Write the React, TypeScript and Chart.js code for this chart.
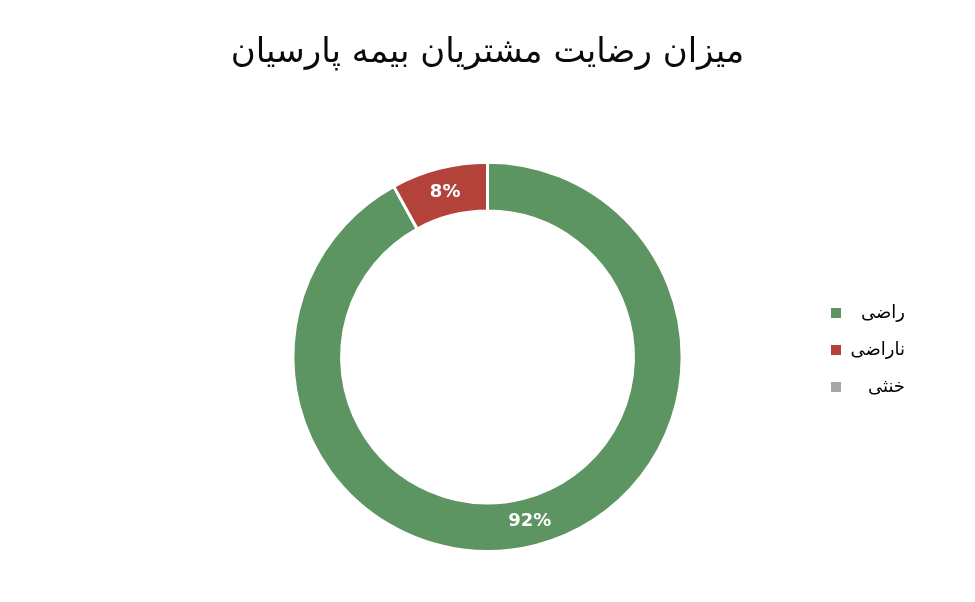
import { useEffect, useRef } from 'react';
import { Chart, registerables } from 'chart.js';

Chart.register(...registerables);

const TITLE = 'میزان رضایت مشتریان بیمه پارسیان';
const LABELS = ['راضی', 'ناراضی', 'خنثی'];
const VALUES = [92, 8, 0];
const COLORS = ['#5c9462', '#b3433a', '#a5a5a5'];

const FONT = "'DejaVu Sans', sans-serif";

// percent labels inside the ring
const sliceLabels = {
  id: 'sliceLabels',
  afterDatasetsDraw(chart: Chart) {
    const { ctx } = chart;
    const meta = chart.getDatasetMeta(0);
    ctx.save();
    ctx.fillStyle = '#ffffff';
    ctx.font = `bold 18px ${FONT}`;
    ctx.textAlign = 'center';
    ctx.textBaseline = 'middle';
    meta.data.forEach((arc: any, i: number) => {
      if (!VALUES[i]) return;
      const { startAngle, endAngle, innerRadius, outerRadius, x, y } = arc.getProps(
        ['startAngle', 'endAngle', 'innerRadius', 'outerRadius', 'x', 'y'],
        true
      );
      const a = (startAngle + endAngle) / 2;
      const r = (innerRadius + outerRadius) / 2;
      ctx.fillText(`${VALUES[i]}%`, x + Math.cos(a) * r, y + Math.sin(a) * r);
    });
    ctx.restore();
  },
};

// legend on the right: box left, text right-aligned
const sideLegend = {
  id: 'sideLegend',
  afterDraw(chart: Chart) {
    const { ctx } = chart;
    const boxX = 823;
    const textRight = 897;
    const top = 305;
    const step = 37;
    ctx.save();
    ctx.font = `18px ${FONT}`;
    ctx.textBaseline = 'middle';
    ctx.textAlign = 'right';
    LABELS.forEach((label, i) => {
      const y = top + i * step;
      ctx.fillStyle = COLORS[i];
      ctx.fillRect(boxX, y - 5, 10, 10);
      ctx.fillStyle = '#000000';
      ctx.fillText(label, textRight, y);
    });
    ctx.restore();
  },
};

export default function App() {
  const canvasRef = useRef<HTMLCanvasElement>(null);

  useEffect(() => {
    if (!canvasRef.current) return;
    const chart = new Chart(canvasRef.current, {
      type: 'doughnut',
      data: {
        labels: LABELS,
        datasets: [
          {
            data: VALUES,
            backgroundColor: COLORS,
            borderColor: '#ffffff',
            borderWidth: 3,
          },
        ],
      },
      options: {
        responsive: true,
        maintainAspectRatio: false,
        animation: false,
        cutout: '75%',
        layout: { padding: { bottom: 41 } },
        plugins: {
          legend: { display: false },
          tooltip: { enabled: false },
          title: {
            display: true,
            text: TITLE,
            color: '#0a0a0a',
            font: { family: FONT, size: 34, weight: 'normal' },
            padding: { top: 25, bottom: 87 },
          },
        },
      },
      plugins: [sliceLabels, sideLegend],
    });
    return () => chart.destroy();
  }, []);

  return (
    <div style={{ position: 'relative', height: 586 }}>
      <canvas ref={canvasRef} />
    </div>
  );
}
